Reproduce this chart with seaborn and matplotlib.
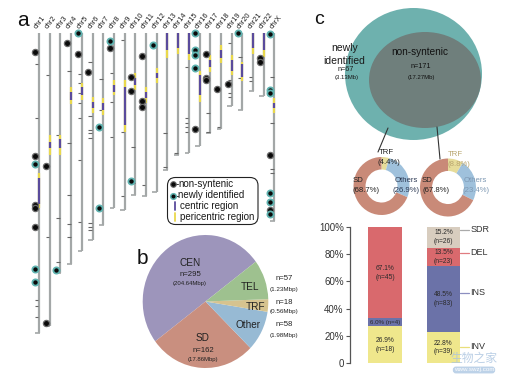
import numpy as np
import pandas as pd
import matplotlib
matplotlib.use("Agg")
import matplotlib.pyplot as plt
import seaborn as sns
from matplotlib.patches import Ellipse, FancyBboxPatch

# ---------------- data ----------------
chroms = ["chr1", "chr2", "chr3", "chr4", "chr5", "chr6", "chr7", "chr8", "chr9", "chr10",
          "chr11", "chr12", "chr13", "chr14", "chr15", "chr16", "chr17", "chr18", "chr19",
          "chr20", "chr21", "chr22", "chrX"]
chrom_len = [248, 242, 198, 191, 180, 171, 159, 145, 146, 134, 135, 131, 113, 101, 99, 93,
             83, 79, 60, 64, 48, 52, 155]
# pericentric start, centric start, centric end, pericentric end (Mb)
peri_start = [116, 84, 84, 45, 41, 53, 54, 39, 39, 33, 45, 29, 0, 0, 0, 31, 18, 10, 18, 24, 0, 0, 54]
cen_start = [120, 90, 88, 49, 45, 57, 58, 43, 45, 37, 49, 33, 0, 0, 0, 35, 22, 14, 22, 26, 0, 0, 58]
cen_end = [141, 95, 95, 55, 51, 62, 64, 49, 76, 43, 54, 37, 14, 12, 17, 51, 28, 21, 31, 36, 12, 14, 62]
peri_end = [145, 101, 101, 59, 55, 66, 68, 51, 82, 47, 58, 41, 21, 17, 22, 57, 32, 25, 35, 40, 17, 20, 66]

nonsyn_chr = ["chr1", "chr1", "chr1", "chr1", "chr1", "chr2", "chr2", "chr4", "chr5", "chr6",
              "chr8", "chr10", "chr10", "chr11", "chr11", "chr11", "chr16", "chr17", "chr17",
              "chr17", "chr18", "chr19", "chr22", "chr22", "chrX", "chrX"]
nonsyn_pos = [16, 102, 142, 145, 160, 110, 240, 8, 17, 32, 12, 36, 48, 19, 56, 61, 79, 17, 37,
              39, 46, 42, 21, 24, 101, 146]
newly_chr = ["chr1", "chr1", "chr1", "chr3", "chr5", "chr7", "chr7", "chr8", "chr10", "chr12",
             "chr16", "chr16", "chr16", "chr16", "chr20", "chrX", "chrX", "chrX", "chrX",
             "chrX", "chrX"]
newly_pos = [108, 195, 206, 196, 0, 78, 145, 7, 122, 10, 0, 14, 18, 29, 0, 1, 47, 50, 132, 140, 150]

gap_chr = ["chr1", "chr1", "chr1", "chr1", "chr1", "chr2", "chr2", "chr3", "chr3", "chr3",
           "chr4", "chr4", "chr4", "chr4", "chr4", "chr5", "chr5", "chr5", "chr5", "chr5", "chr5",
           "chr5", "chr6", "chr6", "chr6", "chr6", "chr6", "chr6", "chr6", "chr6", "chr7", "chr7",
           "chr8", "chr8", "chr8", "chr9", "chr9", "chr9", "chr10", "chr10", "chr11", "chr11",
           "chr13", "chr13", "chr14", "chr15", "chr15", "chr15", "chr15", "chr15", "chr17",
           "chr17", "chr18", "chr19", "chr19", "chr19", "chr19", "chr20", "chr20", "chr21",
           "chr21", "chrX", "chrX", "chrX", "chrX"]
gap_pos = [26, 70, 221, 226, 235, 35, 169, 84, 153, 189, 31, 91, 134, 158, 169, 34, 41, 50, 58,
           70, 105, 156, 24, 69, 80, 83, 87, 157, 160, 163, 38, 64, 33, 57, 86, 6, 82, 135, 94,
           124, 58, 126, 83, 111, 99, 28, 70, 74, 78, 82, 66, 82, 78, 8, 39, 50, 53, 20, 37, 36,
           40, 36, 74, 112, 116]

pie_labels = ["CEN", "SD", "Other", "TRF", "TEL"]
pie_counts = [295, 162, 58, 18, 57]
pie_mbp = ["204.64", "17.86", "1.98", "0.56", "1.23"]

venn_labels = ["newly identified", "non-syntenic"]
venn_n = [67, 171]
venn_mb = ["3.13", "17.27"]

donut_labels = ["TRF", "Others", "SD"]
donut_newly = [4.4, 26.9, 68.7]
donut_nonsyn = [8.8, 23.4, 67.8]

sv_types = ["INV", "INS", "DEL", "SDR"]
bar_groups = ["newly identified", "non-syntenic"]
pct_newly = [26.9, 6.0, 67.1, 0.0]
pct_nonsyn = [22.8, 48.5, 13.5, 15.2]
n_newly = [18, 4, 45, 0]
n_nonsyn = [39, 83, 23, 26]
yticks = [0, 20, 40, 60, 80, 100]
ytick_labels = ["0", "20%", "40%", "60%", "80%", "100%"]

# ---------------- style ----------------
sns.set_theme(style="white")
plt.rcParams['font.family'] = ['Liberation Sans', 'DejaVu Sans', 'Noto Sans CJK SC']

W, H = 516, 376
fig = plt.figure(figsize=(W / 100, H / 100), dpi=100)
fig.patch.set_facecolor("white")


def px_axes(x0, y0, w, h):
    return fig.add_axes([x0 / W, 1 - (y0 + h) / H, w / W, h / H])


GRAY = "#a3a7a7"
PURPLE = "#5a4b9c"
YELLOW = "#e9d84c"
TEAL_RING = "#5fb3b0"

# ---------------- panel a ----------------
axa = px_axes(33.65, 33, 246.1, 310)
axa.set_xlim(-0.5, 22.5)
axa.set_ylim(256.2, 0)
axa.axis("off")
idx = {c: i for i, c in enumerate(chroms)}
xs = np.arange(len(chroms))
axa.vlines(xs, 0, chrom_len, color=GRAY, lw=1.6, zorder=1)
axa.hlines(chrom_len, xs - 0.4, xs + 0.05, color=GRAY, lw=1.2, zorder=1)
axa.vlines(xs, peri_start, peri_end, color=YELLOW, lw=1.6, zorder=2)
axa.vlines(xs, cen_start, cen_end, color=PURPLE, lw=1.6, zorder=3)
gx = np.array([idx[c] for c in gap_chr])
axa.hlines(gap_pos, gx - 0.38, gx - 0.05, color="#666666", lw=0.8, zorder=1)
for i, c in enumerate(chroms):
    axa.text(i - 0.05, -2.5, c, rotation=52, ha="left", va="bottom", rotation_mode="anchor",
             fontsize=5.3, color="#222222", clip_on=False)

df_ns = pd.DataFrame({"x": [idx[c] - 0.38 for c in nonsyn_chr], "pos": nonsyn_pos})
df_nw = pd.DataFrame({"x": [idx[c] - 0.38 for c in newly_chr], "pos": newly_pos})
sns.scatterplot(data=df_ns, x="x", y="pos", ax=axa, s=20, color="#0a0a0a",
                edgecolor="#6a6a6a", linewidth=0.9, zorder=5, clip_on=False, legend=False)
sns.scatterplot(data=df_nw, x="x", y="pos", ax=axa, s=20, color="#0a0a0a",
                edgecolor=TEAL_RING, linewidth=1.3, zorder=5, clip_on=False, legend=False)
axa.set_xlabel("")
axa.set_ylabel("")

# ---------------- panel b: pie ----------------
pie_colors = ["#9d95bb", "#c98f7f", "#97bad4", "#d6c38f", "#9ec18f"]
axb = px_axes(142.7, 235, 125.6, 133)
axb.pie(pie_counts, colors=pie_colors, startangle=36.8, counterclock=True,
        wedgeprops=dict(linewidth=0))
axb.set_xlim(-1, 1)
axb.set_ylim(-1, 1)
axb.set_aspect("auto")

# ---------------- panel c: donuts ----------------
donut_colors = ["#e6dc9a", "#9fc1dc", "#c98a78"]
for (cx, cy), vals in zip([(381.5, 186), (448, 187.5)], [donut_newly, donut_nonsyn]):
    axd = px_axes(cx - 28, cy - 29, 56, 58)
    axd.pie(vals, colors=donut_colors, startangle=90, counterclock=False,
            wedgeprops=dict(width=0.43, linewidth=0))
    axd.set_xlim(-1, 1)
    axd.set_ylim(-1, 1)
    axd.set_aspect("auto")

# ---------------- panel c: stacked bars ----------------
seg_colors = ["#efe78c", "#6b72a8", "#d9696d", "#d8cdbf"]
axc = px_axes(350, 227, 150, 136)
pct = np.array([pct_newly, pct_nonsyn])
cum = np.cumsum(pct, axis=1)
for k in range(len(sv_types) - 1, -1, -1):
    sns.barplot(x=bar_groups, y=list(cum[:, k]), color=seg_colors[k], saturation=1,
                width=0.575, ax=axc, linewidth=0, zorder=2)
axc.set_xlim(-0.598, 1.966)
axc.set_ylim(0, 100)
axc.set_yticks(yticks)
axc.set_yticklabels(ytick_labels, fontsize=7, color="#333333")
axc.set_xticks([])
axc.set_xlabel("")
axc.set_ylabel("")
for sp in ["top", "right", "bottom"]:
    axc.spines[sp].set_visible(False)
axc.spines["left"].set_color("#555555")
axc.spines["left"].set_linewidth(0.9)
axc.tick_params(axis="y", left=True, length=3, width=0.8, color="#555555", pad=1.5)
axc.patch.set_alpha(0)

counts = [n_newly, n_nonsyn]
for g in range(2):
    for k in range(len(sv_types)):
        v = pct[g, k]
        if v <= 0:
            continue
        yc = cum[g, k] - v / 2
        if v < 10:
            txt = f"{v:.1f}% (n={counts[g][k]})"
            fs = 4.4
        else:
            txt = f"{v:.1f}%\n(n={counts[g][k]})"
            fs = 4.8
        axc.text(g, yc, txt, ha="center", va="center", fontsize=fs, color="#2a2a2a",
                 linespacing=1.35, zorder=4)

label_y = [12, 51.5, 81, 98]
leader_colors = ["#e9df7a", "#8c8fc0", "#e07c80", "#aaaaaa"]
for k, t in enumerate(sv_types):
    axc.plot([1.29, 1.44], [label_y[k], label_y[k]], color=leader_colors[k], lw=0.9,
             clip_on=False, zorder=3)
    axc.text(1.46, label_y[k], t, ha="left", va="center", fontsize=6.5, color="#333333",
             clip_on=False)

# ---------------- overlay: venn, labels, legend ----------------
ov = fig.add_axes([0, 0, 1, 1])
ov.set_xlim(0, W)
ov.set_ylim(H, 0)
ov.axis("off")
ov.patch.set_alpha(0)
ov.set_zorder(5)

ov.add_patch(Ellipse((413.5, 74), 137, 132, color="#6eb1ae", lw=0))
ov.add_patch(Ellipse((425, 80), 112, 96, color="#6f7f7c", lw=0))
ov.plot([388, 378], [128, 152], color="#333333", lw=0.8)
ov.plot([437, 440], [127, 159], color="#333333", lw=0.8)

ov.text(345, 48, "newly", fontsize=7.5, ha="center", va="center", color="#1a1a1a")
ov.text(344, 61, "identified", fontsize=7.5, ha="center", va="center", color="#1a1a1a")
ov.text(346, 69.5, f"n={venn_n[0]}", fontsize=5.2, ha="center", va="center", color="#1a1a1a")
ov.text(347, 78, f"({venn_mb[0]}Mb)", fontsize=4.3, ha="center", va="center", color="#1a1a1a")
ov.text(420, 52, venn_labels[1], fontsize=7.2, ha="center", va="center", color="#111111")
ov.text(421, 67, f"n={venn_n[1]}", fontsize=5.2, ha="center", va="center", color="#111111")
ov.text(421, 77, f"({venn_mb[1]}Mb)", fontsize=4.3, ha="center", va="center", color="#111111")

# donut labels
dl = [
    (386, 152, "TRF", "#222222"), (389, 162, f"({donut_newly[0]}%)", "#222222"),
    (358, 180, "SD", "#222222"), (366, 190, f"({donut_newly[2]}%)", "#222222"),
    (406, 180, "Others", "#2e3b55"), (406, 190, f"({donut_newly[1]}%)", "#2e3b55"),
    (455, 155, "TRF", "#b8a56e"), (459, 165, f"({donut_nonsyn[0]}%)", "#b8a56e"),
    (427, 180, "SD", "#222222"), (436, 190, f"({donut_nonsyn[2]}%)", "#222222"),
    (475, 180, "Others", "#7d98b3"), (476, 190, f"({donut_nonsyn[1]}%)", "#7d98b3"),
]
for x, y, t, c in dl:
    ov.text(x, y, t, fontsize=5.6, ha="center", va="center", color=c)

# pie labels
ov.text(190, 263, "CEN", fontsize=7.2, ha="center", va="center", color="#222222")
ov.text(190, 274.5, f"n={pie_counts[0]}", fontsize=5.6, ha="center", va="center", color="#222222")
ov.text(190, 283.5, f"({pie_mbp[0]}Mbp)", fontsize=4.3, ha="center", va="center", color="#222222")
ov.text(203, 338, "SD", fontsize=7.2, ha="center", va="center", color="#222222")
ov.text(203, 350.5, f"n={pie_counts[1]}", fontsize=5.6, ha="center", va="center", color="#222222")
ov.text(203, 360, f"({pie_mbp[1]}Mbp)", fontsize=4.3, ha="center", va="center", color="#222222")
ov.text(250, 287, "TEL", fontsize=7.2, ha="center", va="center", color="#222222")
ov.text(255, 307, "TRF", fontsize=7.2, ha="center", va="center", color="#222222")
ov.text(248, 325, "Other", fontsize=7.2, ha="center", va="center", color="#222222")
for y0, k in [(279, 4), (302, 3), (325, 2)]:
    ov.text(284, y0, f"n={pie_counts[k]}", fontsize=5.6, ha="center", va="center", color="#222222")
    ov.text(284, y0 + 10, f"({pie_mbp[k]}Mbp)", fontsize=4.5, ha="center", va="center",
            color="#222222")

# legend box of panel a
ov.add_patch(FancyBboxPatch((167.5, 177.5), 90.5, 47, boxstyle="round,pad=0,rounding_size=8",
                            facecolor="white", edgecolor="#222222", lw=0.8, zorder=6))
ov.plot([173, 178], [184, 184], color="#333333", lw=0.7, zorder=7)
ov.plot([173, 178], [195.5, 195.5], color="#333333", lw=0.7, zorder=7)
ov.scatter([173], [184], s=16, color="#0a0a0a", edgecolor="#6a6a6a", lw=0.8, zorder=8)
ov.scatter([173], [195.5], s=16, color="#0a0a0a", edgecolor=TEAL_RING, lw=1.1, zorder=8)
ov.plot([175, 175], [202, 210], color=PURPLE, lw=1.3, zorder=7)
ov.plot([175, 175], [213, 221], color=YELLOW, lw=1.3, zorder=7)
for y0, t, x0 in [(184, "non-syntenic", 178.5), (195.5, "newly identified", 178.5),
                  (206, "centric region", 179.5), (217, "pericentric region", 179.5)]:
    ov.text(x0, y0, t, fontsize=7, ha="left", va="center", color="#1a1a1a", zorder=8)

# panel letters
ov.text(23, 21, "a", fontsize=15, ha="center", va="center", color="#111111")
ov.text(142, 259, "b", fontsize=15, ha="center", va="center", color="#111111")
ov.text(319, 19, "c", fontsize=14, ha="center", va="center", color="#111111")

# watermark
ov.text(474, 358, "生物之家", fontsize=8.5, ha="center", va="center", color="#a9c3df",
        alpha=0.8, family=["Noto Sans CJK SC"])
ov.text(474, 370, "www.swzj.com", fontsize=4.5, ha="center", va="center", color="white",
        bbox=dict(boxstyle="round,pad=0.15,rounding_size=0.5", fc="#b6cde6", ec="none",
                  alpha=0.9))

fig.savefig("out.png", dpi=100, facecolor="white")
